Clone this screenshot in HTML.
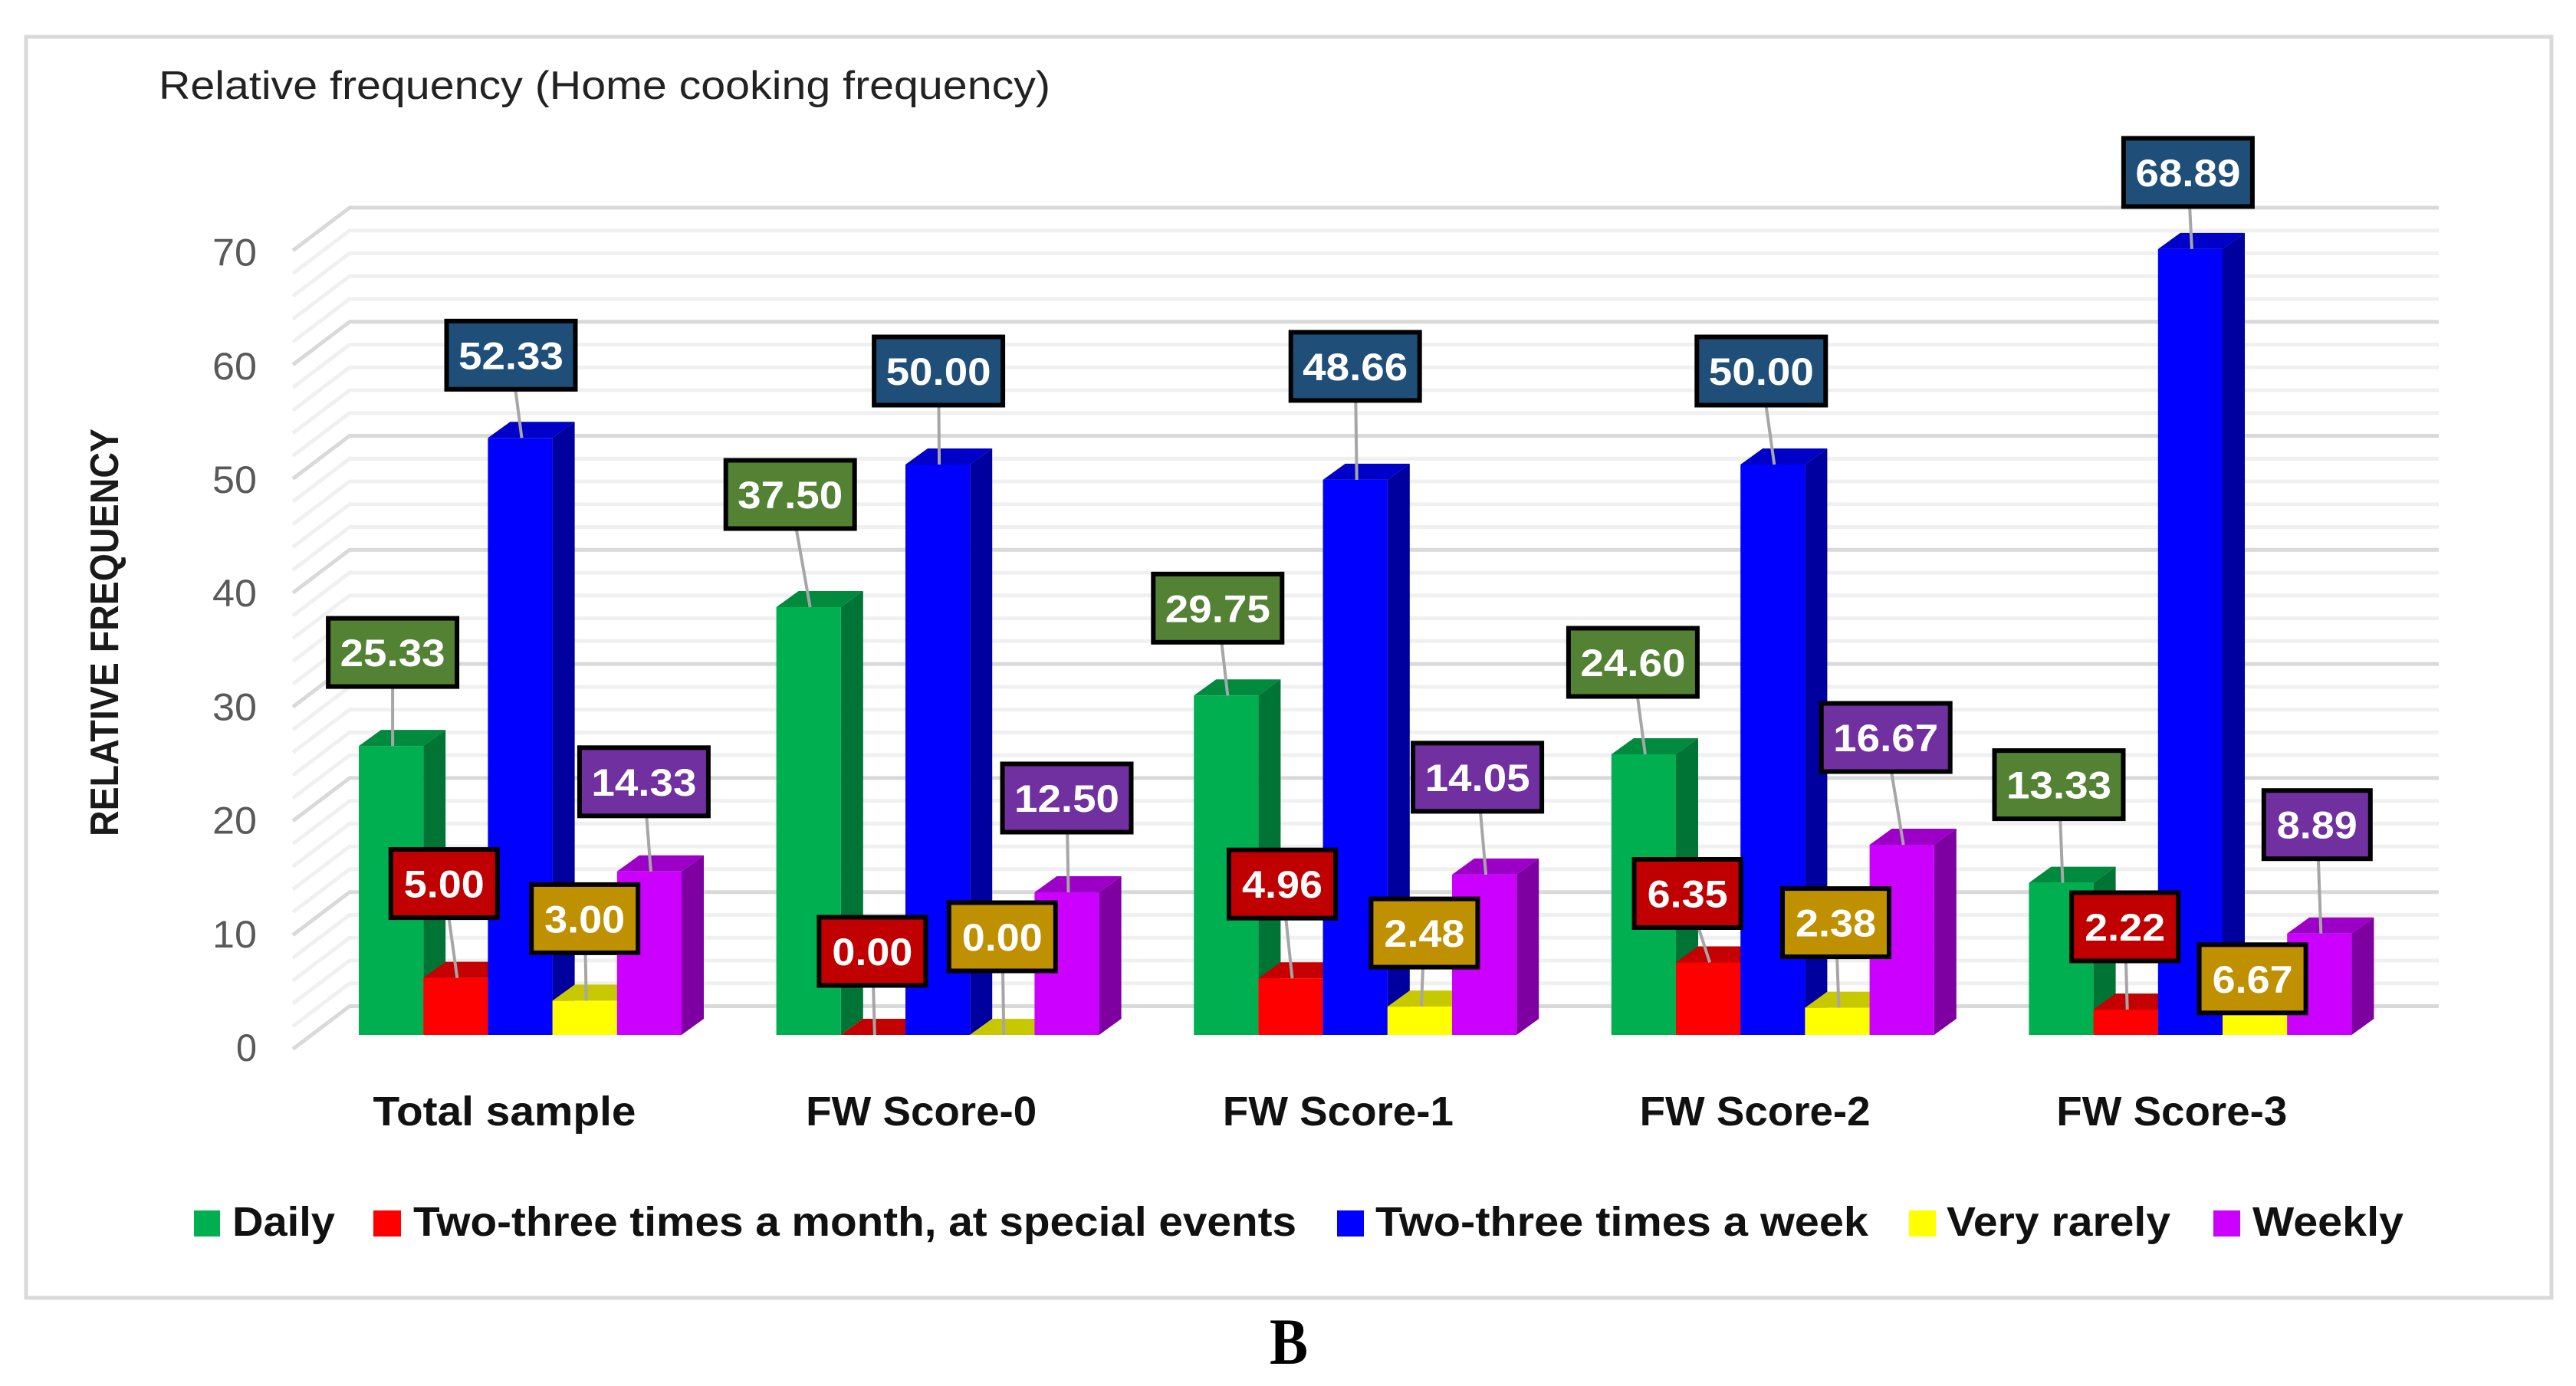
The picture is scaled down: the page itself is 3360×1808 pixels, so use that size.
<!DOCTYPE html>
<html lang="en">
<head>
<meta charset="utf-8">
<title>Relative frequency (Home cooking frequency)</title>
<style>
html,body{margin:0;padding:0;background:#fff;}
svg{display:block;}
text{font-family:"Liberation Sans",sans-serif;}
</style>
</head>
<body>
<svg id="chart" xmlns="http://www.w3.org/2000/svg" width="3360" height="1808" viewBox="0 0 3360 1808">
  <rect x="0" y="0" width="3360" height="1808" fill="#ffffff"/>
  <rect x="34" y="48" width="3294" height="1645" fill="#ffffff" stroke="#d9d9d9" stroke-width="5"/>
  <text x="207" y="129" font-size="52" fill="#222222" textLength="1163" lengthAdjust="spacingAndGlyphs">Relative frequency (Home cooking frequency)</text>
  <text transform="translate(154,1091) rotate(-90)" font-size="52" font-weight="700" fill="#1a1a1a" textLength="532" lengthAdjust="spacingAndGlyphs">RELATIVE FREQUENCY</text>
  <g id="grid"></g>
  <g id="yticks"></g>
  <g id="bars"></g>
  <g id="xticks"></g>
  <g id="labels"></g>
  <g font-size="54" font-weight="700" fill="#111111">
    <g>
      <rect x="253" y="1579" width="34" height="34" fill="#00b050"/>
      <text x="303" y="1612" textLength="134" lengthAdjust="spacingAndGlyphs">Daily</text>
    </g>
    <g>
      <rect x="487" y="1579" width="36" height="34" fill="#ff0000"/>
      <text x="539" y="1612" textLength="1152" lengthAdjust="spacingAndGlyphs">Two-three times a month, at special events</text>
    </g>
    <g>
      <rect x="1744" y="1579" width="35" height="34" fill="#0000ff"/>
      <text x="1794" y="1612" textLength="643" lengthAdjust="spacingAndGlyphs">Two-three times a week</text>
    </g>
    <g>
      <rect x="2490" y="1579" width="35" height="34" fill="#ffff00"/>
      <text x="2539" y="1612" textLength="292" lengthAdjust="spacingAndGlyphs">Very rarely</text>
    </g>
    <g>
      <rect x="2887" y="1579" width="35" height="34" fill="#cc00ff"/>
      <text x="2938" y="1612" textLength="197" lengthAdjust="spacingAndGlyphs">Weekly</text>
    </g>
  </g>
  <text x="1656" y="1779" font-size="86" font-weight="700" fill="#000000" style="font-family:'Liberation Serif',serif" textLength="50" lengthAdjust="spacingAndGlyphs">B</text>
</svg>
<script>
const categories = ["Total sample", "FW Score-0", "FW Score-1", "FW Score-2", "FW Score-3"];
const seriesNames = ["daily", "two-three-month", "two-three-week", "very-rarely", "weekly"];
const daily = [25.33, 37.50, 29.75, 24.60, 13.33];
const twoThreeMonth = [5.00, 0.00, 4.96, 6.35, 2.22];
const twoThreeWeek = [52.33, 50.00, 48.66, 50.00, 68.89];
const veryRarely = [3.00, 0.00, 2.48, 2.38, 6.67];
const weekly = [14.33, 12.50, 14.05, 16.67, 8.89];
const yTickValues = [0, 10, 20, 30, 40, 50, 60, 70];
const yMinorValues = [2, 4, 6, 8, 12, 14, 16, 18, 22, 24, 26, 28, 32, 34, 36, 38, 42, 44, 46, 48, 52, 54, 56, 58, 62, 64, 66, 68];

const seriesValues = [daily, twoThreeMonth, twoThreeWeek, veryRarely, weekly];

/* Styling per series */
const frontColors = ["#00b050", "#ff0000", "#0000ff", "#ffff00", "#cc00ff"];
const sideColors = ["#007434", "#b80000", "#00009e", "#bcbc00", "#7e00a0"];
const topColors = ["#008a3e", "#c40000", "#0000c8", "#c8c800", "#9c00c6"];
const labelColors = ["#548235", "#c00000", "#1f4e79", "#bf9000", "#7030a0"];

/* Hand-placed callout displacement from each bar's top (layout, indexed series → group) */
const calloutLayout = [
  [[2,-122],[-24,-147],[-11,-114],[-14,-120],[-3,-128]],
  [[-15,-123],[-1,-109],[-11,-123],[-27,-90],[-1,-108]],
  [[-12,-108],[1,-122],[0,-148],[-15,-122],[-3,-100]],
  [[0,-107],[0,-128],[6,-96],[-2,-111],[-3,26]],
  [[-7,-117],[0,-123],[-9,-127],[-21,-140],[-3,-142]]
];

const NS = "http://www.w3.org/2000/svg";
const UNIT = 14.88;
const BASE = 1350;
const GROUP_X0 = 468;
const GROUP_PITCH = 544.6;
const BAR_W = 84.2;
const DEPTH_X = 29;
const DEPTH_Y = 21;
const WALL_X0 = 456;
const WALL_X1 = 3181;
const WALL_Y0 = 1312.5;
const FLOOR_DX = 74;
const FLOOR_DY = 56;

function yBar(v) { return BASE - v * UNIT; }
function yWall(v) { return WALL_Y0 - v * UNIT; }
function yTickBase(v) { return 1384 - v * 14.82; }
function xBar(g, s) { return GROUP_X0 + GROUP_PITCH * g + BAR_W * s; }

function mk(tag, attrs, parent) {
  const n = document.createElementNS(NS, tag);
  for (const k in attrs) n.setAttribute(k, attrs[k]);
  parent.appendChild(n);
  return n;
}
function pts(list) { return list.map(function (p) { return p[0].toFixed(1) + "," + p[1].toFixed(1); }).join(" "); }

const gridG = document.getElementById("grid");
function drawGridLine(v, major) {
  const color = major ? "#d9d9d9" : "#f0f0f0";
  const wy = yWall(v);
  const line = mk("polyline", {
    points: pts([[WALL_X0 - FLOOR_DX, wy + FLOOR_DY], [WALL_X0, wy], [WALL_X1, wy]]),
    fill: "none", stroke: color, "stroke-width": major ? 5 : 5
  }, gridG);
  
  
}
yMinorValues.forEach(function (v) { drawGridLine(v, false); });
yTickValues.forEach(function (v) { drawGridLine(v, true); });

const yG = document.getElementById("yticks");
yTickValues.forEach(function (v) {
  const label = String(v);
  const t = mk("text", {
    x: 335, y: yTickBase(v).toFixed(1), "font-size": 50, fill: "#595959", "text-anchor": "end",
    textLength: label.length > 1 ? 58 : 27, lengthAdjust: "spacingAndGlyphs"
  }, yG);
  t.textContent = label;
  
  
});

const barsG = document.getElementById("bars");
categories.forEach(function (cat, g) {
  seriesValues.forEach(function (vals, s) {
    const v = vals[g];
    const x = xBar(g, s);
    const top = yBar(v);
    const group = mk("g", {}, barsG);
    
    
    const side = mk("polygon", {
      points: pts([[x + BAR_W, top], [x + BAR_W + DEPTH_X, top - DEPTH_Y], [x + BAR_W + DEPTH_X, BASE - DEPTH_Y], [x + BAR_W, BASE]]),
      fill: sideColors[s]
    }, group);
    
    
    const cap = mk("polygon", {
      points: pts([[x, top], [x + DEPTH_X, top - DEPTH_Y], [x + BAR_W + DEPTH_X, top - DEPTH_Y], [x + BAR_W, top]]),
      fill: topColors[s]
    }, group);
    
    
    const front = mk("rect", {
      x: x.toFixed(1), y: top.toFixed(1), width: BAR_W.toFixed(1), height: (BASE - top).toFixed(1), fill: frontColors[s]
    }, group);
    
    
  });
});

const xG = document.getElementById("xticks");
categories.forEach(function (cat, g) {
  const t = mk("text", {
    x: (658 + 543.7 * g).toFixed(1), y: 1468, "font-size": 54, "font-weight": 700, fill: "#111111", "text-anchor": "middle",
    textLength: g === 0 ? 343 : 301, lengthAdjust: "spacingAndGlyphs"
  }, xG);
  t.textContent = cat;
  
  
});

const labelsG = document.getElementById("labels");
const leadersG = mk("g", {}, labelsG);


const boxesG = mk("g", {}, labelsG);



seriesValues.forEach(function (vals, s) {
  vals.forEach(function (v, g) {
    const cx = xBar(g, s) + BAR_W / 2;
    const cy = yBar(v);
    const off = calloutLayout[s][g];
    const lx = cx + off[0];
    const ly = cy + off[1];
    const str = v.toFixed(2);
    const w = str.length === 5 ? 168 : 139;
    const h = 89;

    const lead = mk("line", {
      x1: lx.toFixed(1), y1: ly.toFixed(1), x2: (cx + 2).toFixed(1), y2: cy.toFixed(1), stroke: "#a6a6a6", "stroke-width": 4
    }, leadersG);
    
    

    const box = mk("rect", {
      x: (lx - w / 2).toFixed(1), y: (ly - h / 2).toFixed(1), width: w, height: h,
      fill: labelColors[s], stroke: "#000000", "stroke-width": 6
    }, boxesG);
    
    

    const t = mk("text", {
      x: lx.toFixed(1), y: (ly + 18).toFixed(1), "font-size": 50, "font-weight": 700, fill: "#ffffff", "text-anchor": "middle",
      textLength: str.length === 5 ? 137 : 105, lengthAdjust: "spacingAndGlyphs"
    }, boxesG);
    t.textContent = str;
    
    
  });
});
</script>
</body>
</html>
